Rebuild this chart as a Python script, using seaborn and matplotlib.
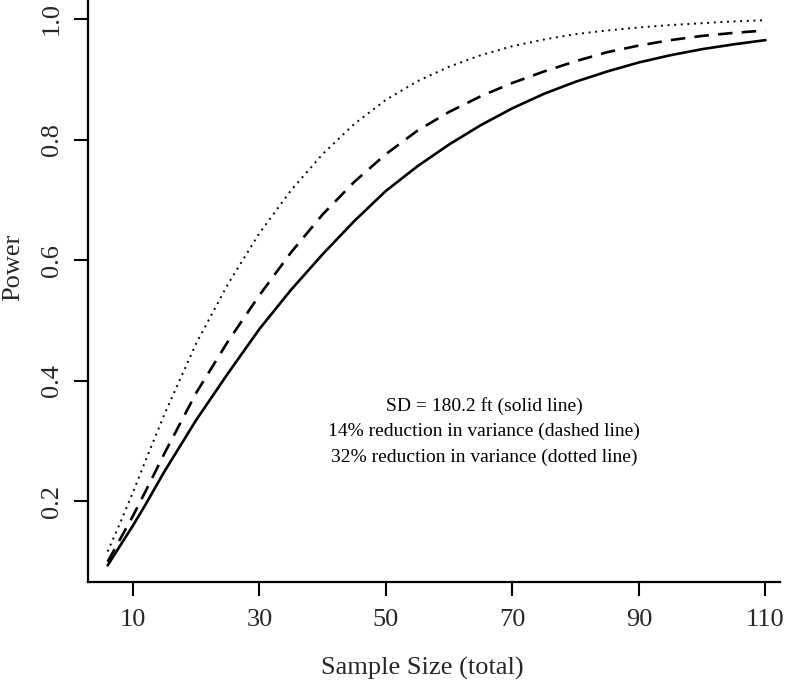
import matplotlib
matplotlib.use("Agg")
import matplotlib.pyplot as plt
import pandas as pd
import seaborn as sns

# values (power vs total sample size)
sample_size = [6, 8, 10, 12, 15, 20, 25, 30, 35, 40, 45, 50, 55, 60, 65, 70, 75, 80, 85, 90, 95, 100, 105, 110]
power_solid = [0.094, 0.127, 0.160, 0.195, 0.250, 0.335, 0.412, 0.486, 0.551, 0.610, 0.665, 0.715,
               0.756, 0.792, 0.824, 0.852, 0.876, 0.896, 0.913, 0.928, 0.940, 0.950, 0.958, 0.965]
power_dashed = [0.100, 0.138, 0.176, 0.217, 0.280, 0.380, 0.465, 0.542, 0.613, 0.676, 0.730, 0.776,
                0.815, 0.846, 0.872, 0.894, 0.913, 0.930, 0.945, 0.956, 0.965, 0.972, 0.977, 0.981]
power_dotted = [0.117, 0.165, 0.215, 0.268, 0.345, 0.462, 0.560, 0.645, 0.716, 0.776, 0.826, 0.866,
                0.897, 0.921, 0.940, 0.955, 0.966, 0.975, 0.981, 0.986, 0.990, 0.993, 0.996, 0.998]

x_ticks = [10, 30, 50, 70, 90, 110]
y_ticks = [0.2, 0.4, 0.6, 0.8, 1.0]
note_lines = [
    "SD = 180.2 ft (solid line)",
    "14% reduction in variance (dashed line)",
    "32% reduction in variance (dotted line)",
]

sns.set_theme(style="ticks")
plt.rcParams["font.family"] = ["Liberation Serif", "DejaVu Serif"]

n_pts = len(sample_size)
df = pd.DataFrame({
    "n": sample_size * 3,
    "power": power_solid + power_dashed + power_dotted,
    "series": ["solid"] * n_pts + ["dashed"] * n_pts + ["dotted"] * n_pts,
})

fig = plt.figure(figsize=(7.88, 6.84), dpi=100)
ax = fig.add_axes([88 / 788, 102.3 / 684, (780 - 88) / 788, 581.7 / 684])

styles = {
    "solid": dict(lw=1.9, dashes=None),
    "dashed": dict(lw=1.9, dashes=(5.5, 3.5)),
    "dotted": dict(lw=1.4, dashes=(1, 2.4)),
}
for name, st in styles.items():
    sub = df[df["series"] == name]
    sns.lineplot(data=sub, x="n", y="power", ax=ax, color="black",
                 lw=st["lw"], estimator=None, sort=False)
    if st["dashes"] is not None:
        ax.lines[-1].set_dashes(st["dashes"])

ax.set_xlim(2.9, 112.3)
ax.set_ylim(0.067, 1.0315)
ax.set_xticks(x_ticks)
ax.set_xticklabels([str(t) for t in x_ticks])
ax.set_yticks(y_ticks)
ax.set_yticklabels([f"{t:.1f}" for t in y_ticks], rotation=90, va="center")
ax.tick_params(axis="both", labelsize=19, length=10, width=1.5, direction="out", color="black")
ax.tick_params(axis="x", pad=10)
ax.tick_params(axis="y", pad=8)
for s in ["top", "right"]:
    ax.spines[s].set_visible(False)
for s in ["left", "bottom"]:
    ax.spines[s].set_linewidth(1.6)
    ax.spines[s].set_color("black")

ax.set_xlabel("Sample Size (total)", fontsize=19)
ax.set_ylabel("Power", fontsize=19)
ax.xaxis.set_label_coords((422 - 88) / (780 - 88), -(657 - 581.7) / 581.7)
ax.yaxis.set_label_coords(-(88 - 24) / (780 - 88), (581.7 - 267) / 581.7)

for i, txt in enumerate(note_lines):
    fig.text(484 / 788, 1 - (406 + 25.5 * i) / 684, txt, ha="center", va="center",
             fontsize=14, color="black")

fig.savefig("out.png", dpi=100)
